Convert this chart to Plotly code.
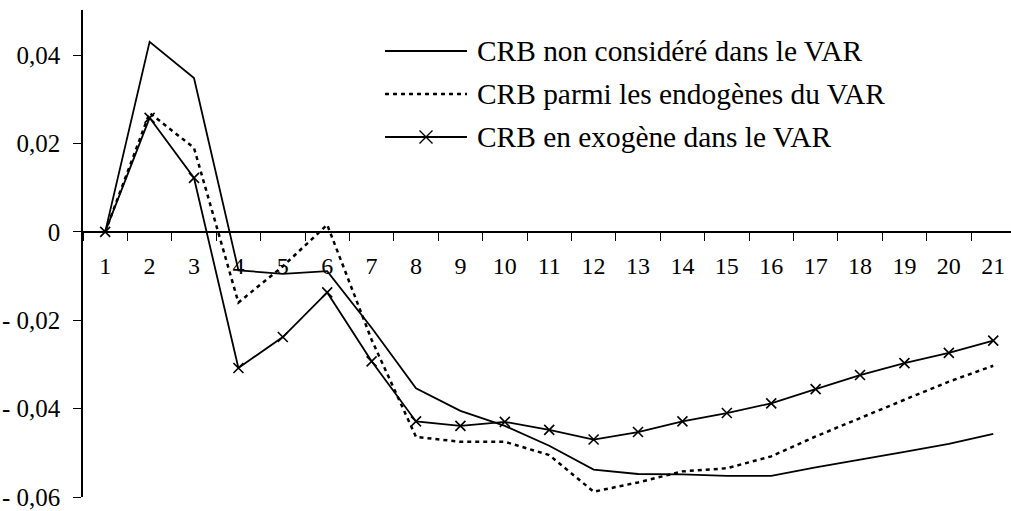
import plotly.graph_objects as go

# Horizon (periods) on the category axis
periods = [str(i) for i in range(1, 22)]

# Impulse responses for the three VAR specifications
crb_non_considere = [0.0, 0.0430, 0.0348, -0.0087, -0.0095, -0.0089, -0.0217, -0.0354,
                     -0.0405, -0.0439, -0.0484, -0.0538, -0.0548, -0.0549, -0.0552,
                     -0.0552, -0.0533, -0.0516, -0.0498, -0.0480, -0.0457]
crb_endogene = [0.0, 0.0269, 0.0190, -0.0160, -0.0078, 0.0016, -0.0244, -0.0464,
                -0.0475, -0.0475, -0.0505, -0.0588, -0.0567, -0.0542, -0.0535,
                -0.0508, -0.0463, -0.0421, -0.0380, -0.0339, -0.0303]
crb_exogene = [0.0, 0.0258, 0.0122, -0.0308, -0.0238, -0.0137, -0.0293, -0.0429,
               -0.0439, -0.0430, -0.0448, -0.0470, -0.0453, -0.0429, -0.0410,
               -0.0388, -0.0356, -0.0324, -0.0297, -0.0274, -0.0246]

series_names = ["CRB non considéré dans le VAR",
                "CRB parmi les endogènes du VAR",
                "CRB en exogène dans le VAR"]

y_tick_values = [-0.06, -0.04, -0.02, 0.0, 0.02, 0.04]
y_tick_labels = ["- 0,06", "- 0,04", "- 0,02", "0", "0,02", "0,04"]

FONT = "'Liberation Serif', 'Times New Roman', 'DejaVu Serif', serif"
W, H = 1011, 511
L, T, B = 83, 10, 14
Y_MIN, Y_MAX = -0.06, 0.0502
LW = 1.8

fig = go.Figure()
fig.add_trace(go.Scatter(x=periods, y=crb_non_considere, mode="lines",
                         line=dict(color="black", width=LW), name=series_names[0]))
fig.add_trace(go.Scatter(x=periods, y=crb_endogene, mode="lines",
                         line=dict(color="black", width=2.5, dash="4px,4px"),
                         name=series_names[1]))
fig.add_trace(go.Scatter(x=periods, y=crb_exogene, mode="lines+markers",
                         line=dict(color="black", width=LW),
                         marker=dict(symbol="x-thin-open", size=10,
                                     line=dict(color="black", width=1.6)),
                         name=series_names[2]))

plot_w = W - L
plot_h = H - T - B


def xp(px):
    return (px - L) / plot_w


def yp(py):
    return (H - B - py) / plot_h


# Hand-drawn key in the upper right of the plot area
shapes = []
annotations = []
rows = [51, 94, 137]
x0, x1, xt = 385, 467, 475
for i, (row, name) in enumerate(zip(rows, series_names)):
    line = dict(color="black", width=2.5 if i == 1 else LW)
    if i == 1:
        line["dash"] = "4px,4px"
    shapes.append(dict(type="line", xref="paper", yref="paper",
                       x0=xp(x0), x1=xp(x1), y0=yp(row), y1=yp(row), line=line))
    if i == 2:
        cx, r = 426, 6.5
        path = (f"M{xp(cx - r)},{yp(row - r)} L{xp(cx + r)},{yp(row + r)} "
                f"M{xp(cx - r)},{yp(row + r)} L{xp(cx + r)},{yp(row - r)}")
        shapes.append(dict(type="path", xref="paper", yref="paper", path=path,
                           line=dict(color="black", width=1.4)))
    annotations.append(dict(x=xp(xt), y=yp(row), xref="paper", yref="paper",
                            text=name, showarrow=False, xanchor="left",
                            yanchor="middle",
                            font=dict(family=FONT, size=29.4, color="black")))

zero_pos = (0 - Y_MIN) / (Y_MAX - Y_MIN)

fig.update_layout(
    width=W, height=H,
    margin=dict(l=L, r=0, t=T, b=B, pad=0),
    paper_bgcolor="white", plot_bgcolor="white",
    showlegend=False,
    font=dict(family=FONT, color="black"),
    shapes=shapes, annotations=annotations,
    xaxis=dict(type="category", range=[-0.5, 20.4], anchor="free",
               position=zero_pos, showline=True, linecolor="black", linewidth=1.5,
               ticks="outside", ticklen=8, tickwidth=1, tickcolor="black",
               tickson="boundaries", showgrid=False, zeroline=False,
               tickfont=dict(family=FONT, size=24, color="black"),
               ticklabelstandoff=13),
    yaxis=dict(range=[Y_MIN, Y_MAX], tickvals=y_tick_values, ticktext=y_tick_labels,
               showline=True, linecolor="black", linewidth=1.5,
               ticks="outside", ticklen=8, tickwidth=1, tickcolor="black",
               showgrid=False, zeroline=False,
               tickfont=dict(family=FONT, size=25, color="black"),
               ticklabelstandoff=8),
)

fig.write_html("out.html")
